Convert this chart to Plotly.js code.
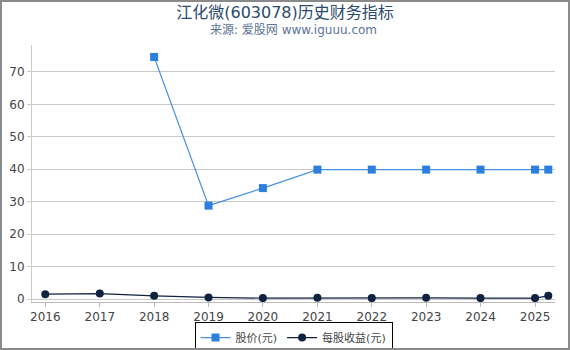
<!DOCTYPE html>
<html><head><meta charset="utf-8">
<script src="https://cdn.plot.ly/plotly-3.0.1.min.js"></script>
<style>html,body{margin:0;padding:0;background:#fff}#c{width:566px;height:346px;border:2px solid #8a8a8a;overflow:hidden}</style>
</head><body><div id="c"></div>
<script>
const dates = ['2016-01-01','2017-01-01','2018-01-01','2019-01-01','2020-01-01','2021-01-01','2022-01-01','2023-01-01','2024-01-01','2025-01-01','2025-03-31'];
const price = [null,null,74.6,28.8,34.2,39.9,39.9,39.9,39.9,39.9,39.9];
const eps = [1.5,1.7,1.0,0.5,0.3,0.4,0.3,0.4,0.3,0.3,1.0];
const tickVals = ['2016-01-01','2017-01-01','2018-01-01','2019-01-01','2020-01-01','2021-01-01','2022-01-01','2023-01-01','2024-01-01','2025-01-01'];
const tickText = ['2016','2017','2018','2019','2020','2021','2022','2023','2024','2025'];
const titleText = '江化微(603078)历史财务指标';
const subtitleText = '来源: 爱股网 www.iguuu.com';
const F = 'DejaVu Sans, Noto Sans CJK SC, sans-serif';
const traces = [
 {x:dates,y:price,name:'股价(元)',type:'scatter',mode:'lines+markers',connectgaps:false,
  line:{color:'#4a90e2',width:1.2},marker:{symbol:'square',size:8,color:'#2c7fdc'}},
 {x:dates,y:eps,name:'每股收益(元)',type:'scatter',mode:'lines+markers',
  line:{color:'#0f2340',width:1.2},marker:{symbol:'circle',size:8,color:'#0f2340'}}
];
const layout = {
 width:566,height:346,margin:{l:30,r:13,t:43,b:46,autoexpand:false},
 paper_bgcolor:'#fff',plot_bgcolor:'#fff',
 font:{family:F,size:12,color:'#444'},
 title:{text:titleText,font:{size:16,color:'#2b4a6e',family:F},x:0.5,xanchor:'center',
  yref:'container',y:0.97,yanchor:'middle'},
 annotations:[{text:subtitleText,xref:'paper',yref:'paper',x:0.5,y:1.058,xanchor:'center',yanchor:'middle',
  showarrow:false,font:{size:12,color:'#5b7396',family:F}}],
 xaxis:{type:'date',range:['2015-10-04','2025-05-15'],tickvals:tickVals,ticktext:tickText,
  showgrid:false,showline:true,linecolor:'#bbb',ticks:'outside',ticklen:4,tickcolor:'#bbb',
  tickfont:{size:12,color:'#444'},zeroline:false},
 yaxis:{range:[-0.9,78.3],tickvals:[0,10,20,30,40,50,60,70],showgrid:true,gridcolor:'#c8c8c8',
  showline:true,linecolor:'#ccc',ticks:'outside',ticklen:4,tickcolor:'#ccc',zeroline:false,
  tickfont:{size:12,color:'#444'}},
 showlegend:true,
 legend:{orientation:'h',x:0.5,xanchor:'center',yref:'container',y:0.075,yanchor:'top',bordercolor:'#000',borderwidth:1,
  itemwidth:30,font:{size:11,color:'#444'},bgcolor:'#fff'}
};
Plotly.newPlot('c',traces,layout,{displayModeBar:false,staticPlot:true});
</script></body></html>
